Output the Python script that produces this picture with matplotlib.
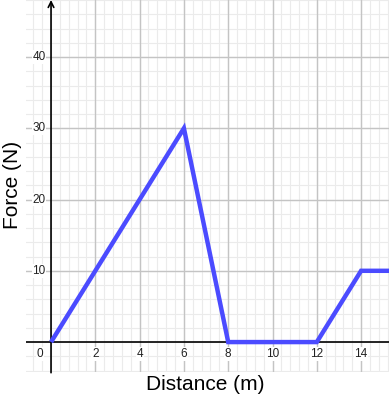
import matplotlib
matplotlib.use("Agg")
import matplotlib.pyplot as plt
import numpy as np

plt.rcParams["font.family"] = ["Liberation Sans", "DejaVu Sans"]

# Force vs distance
dist = [0, 6, 8, 12, 14, 15.5]
force = [0, 30, 0, 0, 10, 10]

x_ticks = [2, 4, 6, 8, 10, 12, 14]
y_ticks = [10, 20, 30, 40]

fig = plt.figure(figsize=(3.89, 3.99), dpi=100)
ax = fig.add_axes([26 / 389, 27 / 399, 363 / 389, 372 / 399])
ax.set_xlim(-1.13, 15.26)
ax.set_ylim(-4.2, 48.0)

# grid
for v in np.arange(-0.8, 15.3, 0.4):
    ax.axvline(v, color="#ebebeb", lw=0.8, zorder=0)
for v in np.arange(-4, 48.1, 2):
    ax.axhline(v, color="#ebebeb", lw=0.8, zorder=0)
for v in x_ticks:
    ax.axvline(v, color="#c4c4c4", lw=1.0, zorder=1)
for v in y_ticks:
    ax.axhline(v, color="#c4c4c4", lw=1.0, zorder=1)

# axes lines
ax.axhline(0, color="black", lw=1.2, zorder=2)
ax.annotate("", xy=(0, 48.0), xytext=(0, -4.3),
            arrowprops=dict(arrowstyle="->", color="black", lw=1.2,
                            mutation_scale=10, shrinkA=0, shrinkB=0),
            zorder=2, annotation_clip=False)

ax.plot(dist, force, color="#4b4bff", lw=3.2, solid_capstyle="butt",
        solid_joinstyle="miter", zorder=3)

box = dict(facecolor="white", edgecolor="none", pad=0.5)
for v in x_ticks:
    ax.text(v, -1.7, str(v), ha="center", va="center", fontsize=8.5,
            color="#222222", bbox=box, zorder=2.5)
ax.text(-0.5, -1.7, "0", ha="center", va="center", fontsize=8.5,
        color="#222222", bbox=box, zorder=2.5)
for v in y_ticks:
    ax.text(-0.25, v, str(v), ha="right", va="center", fontsize=8.5,
            color="#222222", bbox=box, zorder=2.5)

ax.set_axis_off()

fig.text(205 / 389, 1 - 384 / 399, "Distance (m)", ha="center", va="center",
         fontsize=15)
fig.text(13 / 389, 1 - 185 / 399, "Force (N)", ha="center", va="center",
         fontsize=15, rotation=90)

fig.savefig("out.png", dpi=100)
